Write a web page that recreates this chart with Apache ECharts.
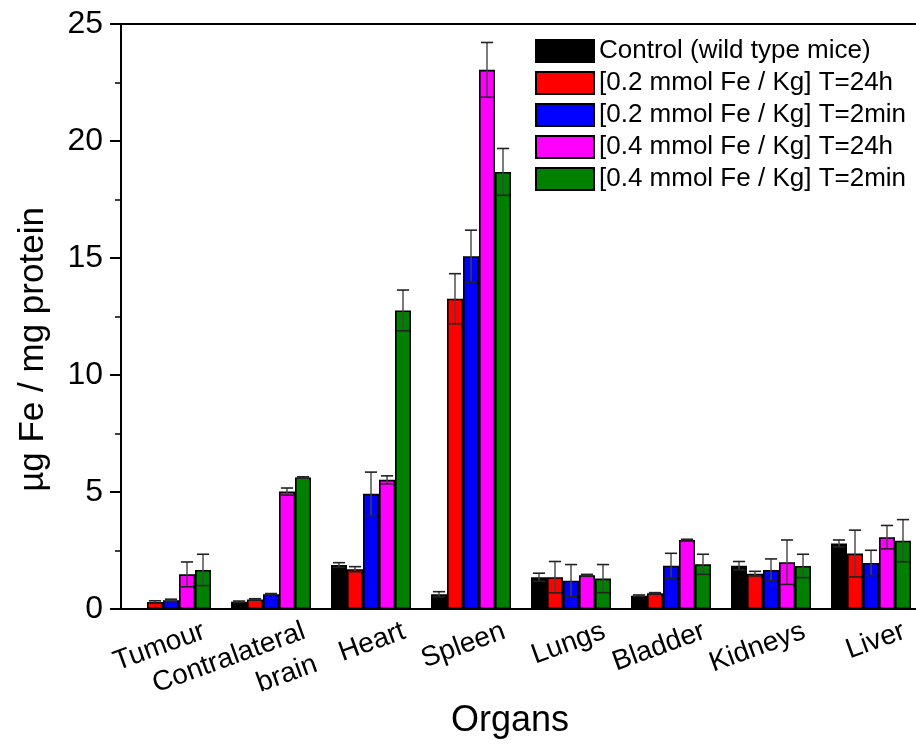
<!DOCTYPE html>
<html>
<head>
<meta charset="utf-8">
<script src="https://cdn.jsdelivr.net/npm/echarts@6/dist/echarts.min.js"></script>
<style>
  html, body { margin: 0; padding: 0; background: #fff; }
  #chart { width: 916px; height: 744px; }
</style>
</head>
<body>
<div id="chart"></div>
<script>
const categories = ['Tumour', 'Contralateral\nbrain', 'Heart', 'Spleen', 'Lungs', 'Bladder', 'Kidneys', 'Liver'];
const seriesNames = [
  'Control (wild type mice)',
  '[0.2 mmol Fe / Kg] T=24h',
  '[0.2 mmol Fe / Kg] T=2min',
  '[0.4 mmol Fe / Kg] T=24h',
  '[0.4 mmol Fe / Kg] T=2min'
];
const colors = ['#000000', '#ff0000', '#0000ff', '#ff00ff', '#008000'];

const control = [0, 0.31, 1.88, 0.63, 1.36, 0.57, 1.85, 2.80];
const controlErr = [0, 0.03, 0.10, 0.11, 0.17, 0.03, 0.18, 0.15];
const fe02h24 = [0.30, 0.41, 1.70, 13.26, 1.36, 0.67, 1.51, 2.37];
const fe02h24Err = [0.05, 0.03, 0.11, 1.07, 0.67, 0.03, 0.10, 1.00];
const fe02m2 = [0.37, 0.63, 4.92, 15.08, 1.21, 1.85, 1.67, 1.97];
const fe02m2Err = [0.05, 0.03, 0.93, 1.11, 0.69, 0.53, 0.47, 0.54];
const fe04h24 = [1.48, 5.02, 5.52, 23.04, 1.44, 2.95, 2.00, 3.07];
const fe04h24Err = [0.53, 0.15, 0.17, 1.17, 0.04, 0.03, 0.95, 0.50];
const fe04m2 = [1.67, 5.62, 12.76, 18.68, 1.30, 1.91, 1.84, 2.92];
const fe04m2Err = [0.67, 0.03, 0.87, 1.00, 0.60, 0.43, 0.50, 0.90];

const yTicks = { min: 0, max: 25, interval: 5 };

const values = [control, fe02h24, fe02m2, fe04h24, fe04m2];
const errors = [controlErr, fe02h24Err, fe02m2Err, fe04h24Err, fe04m2Err];
const nGroups = values.length;
const catGap = 0.2;

const chart = echarts.init(document.getElementById('chart'));

const barSeries = values.map((vals, i) => ({
  name: seriesNames[i],
  type: 'bar',
  data: vals,
  barGap: '0%',
  barCategoryGap: '20%',
  itemStyle: { color: colors[i], borderColor: '#000', borderWidth: 1.6 },
  z: 2
}));

// error bars, placed on each bar through the category band width
const errSeries = values.map((vals, i) => ({
  name: 'err' + i,
  type: 'custom',
  z: 5,
  silent: true,
  data: vals.map((v, k) => [k, v, errors[i][k]]),
  renderItem: function (params, api) {
    const k = api.value(0), v = api.value(1), e = api.value(2);
    if (!e) return null;
    const band = api.size([1, 0])[0];
    const bw = band * (1 - catGap) / nGroups;
    const off = (i - (nGroups - 1) / 2) * bw;
    const hi = api.coord([k, v + e]);
    const lo = api.coord([k, v - e]);
    const x = hi[0] + off;
    const cap = bw * 0.38;
    return {
      type: 'group',
      children: [
        { type: 'line', shape: { x1: x, y1: hi[1], x2: x, y2: lo[1] }, style: { stroke: '#444', lineWidth: 1.4 } },
        { type: 'line', shape: { x1: x - cap, y1: hi[1], x2: x + cap, y2: hi[1] }, style: { stroke: '#222', lineWidth: 1.6 } },
        { type: 'line', shape: { x1: x - cap, y1: lo[1], x2: x + cap, y2: lo[1] }, style: { stroke: '#222', lineWidth: 1.6 } }
      ]
    };
  }
}));

const option = {
  animation: false,
  textStyle: { fontFamily: 'Liberation Sans, Arial, sans-serif', color: '#000' },
  grid: {
    left: 121, top: 24, width: 800, height: 585,
    outerBoundsMode: 'none',
    containLabel: false,
    show: true, borderColor: '#000', borderWidth: 2, backgroundColor: 'transparent'
  },
  legend: {
    data: seriesNames,
    orient: 'vertical',
    left: 530,
    top: 33,
    itemWidth: 58,
    itemHeight: 22,
    itemGap: 6,
    icon: 'rect',
    textStyle: { fontSize: 26, color: '#000', fontFamily: 'Liberation Sans, Arial, sans-serif' }
  },
  xAxis: {
    type: 'category',
    data: categories,
    name: 'Organs',
    nameLocation: 'middle',
    nameGap: 94,
    nameMoveOverlap: false,
    nameTextStyle: { fontSize: 36, color: '#000', padding: [0, 22, 0, 0] },
    axisLine: { lineStyle: { color: '#000', width: 2 } },
    axisTick: { alignWithLabel: true, length: 13, lineStyle: { color: '#000', width: 2 } },
    axisLabel: {
      interval: 0,
      rotate: 20,
      fontSize: 28,
      lineHeight: 35,
      color: '#000',
      verticalAlign: 'top',
      margin: 15,
      padding: [0, -29, 0, 0]
    }
  },
  yAxis: {
    type: 'value',
    min: yTicks.min,
    max: yTicks.max,
    interval: yTicks.interval,
    name: 'µg Fe / mg protein',
    nameLocation: 'middle',
    nameGap: 70,
    nameMoveOverlap: false,
    nameTextStyle: { fontSize: 35, color: '#000', padding: [0, 66, 0, 0] },
    axisLine: { show: true, lineStyle: { color: '#000', width: 2 } },
    axisTick: { show: true, length: 11, lineStyle: { color: '#000', width: 2 } },
    minorTick: { show: true, splitNumber: 2, length: 6, lineStyle: { color: '#000', width: 1.5 } },
    splitLine: { show: false },
    axisLabel: { fontSize: 32, color: '#000', margin: 18 }
  },
  series: barSeries.concat(errSeries)
};

chart.setOption(option);
</script>
</body>
</html>
